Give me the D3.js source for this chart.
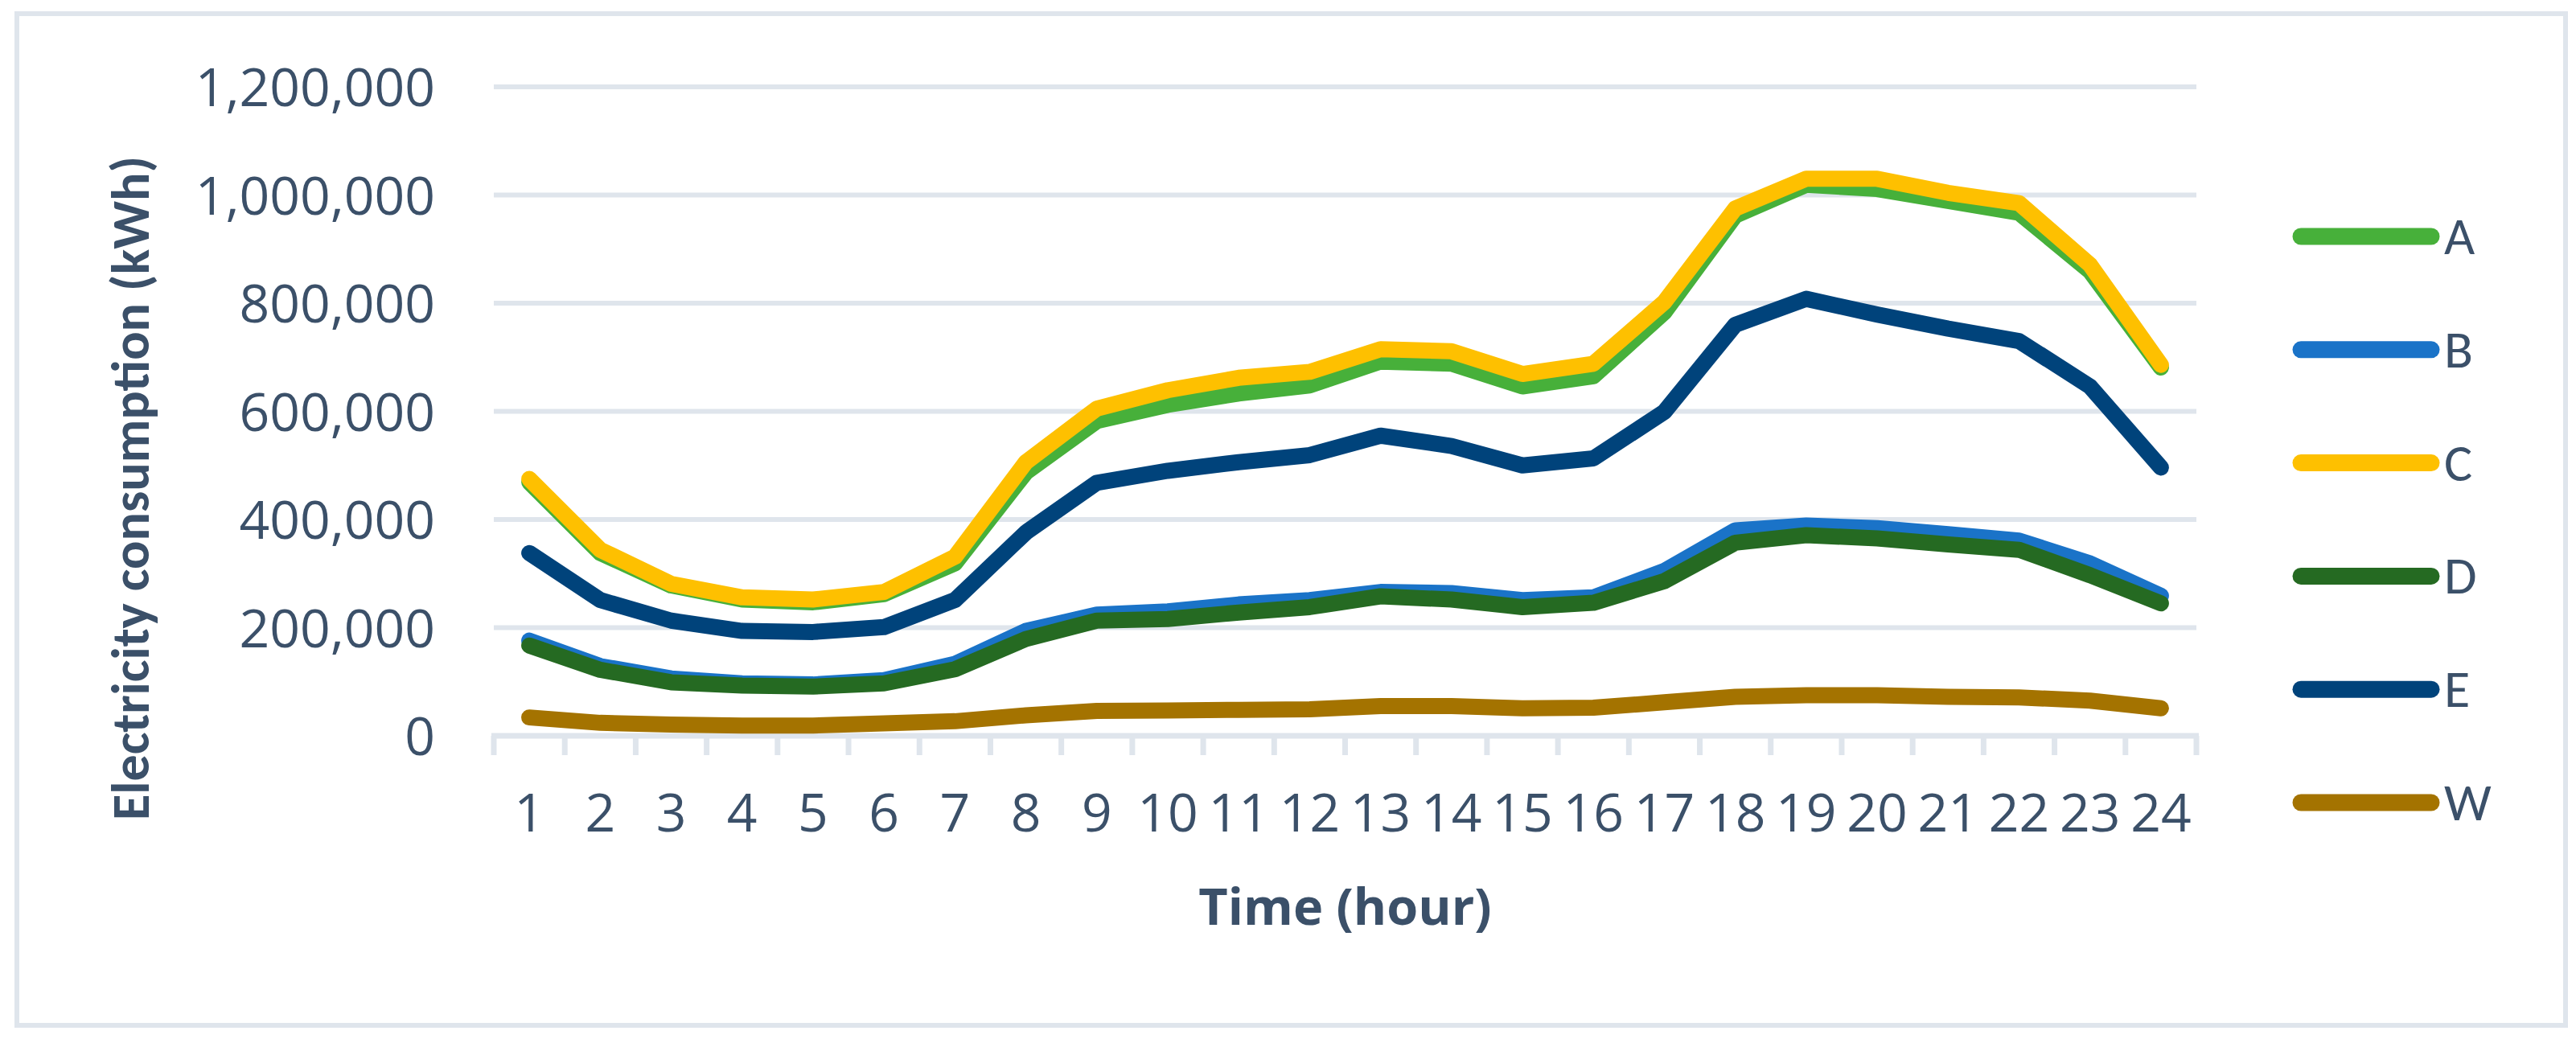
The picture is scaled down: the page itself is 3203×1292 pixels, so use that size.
<!DOCTYPE html>
<html>
<head>
<meta charset="utf-8">
<script src="https://cdn.jsdelivr.net/npm/d3@7"></script>
<style>
  html, body { margin: 0; padding: 0; background: #ffffff; }
  svg { display: block; }
</style>
</head>
<body>
<div id="chart"></div>
<script>
// ---- data ----
const hours = [1,2,3,4,5,6,7,8,9,10,11,12,13,14,15,16,17,18,19,20,21,22,23,24];
const seriesNames = ["A","B","C","D","E","W"];
const seriesColors = ["#47b03a","#1a73c8","#fec000","#256a22","#00437b","#a47300"];
const valuesA = [469000,338000,278000,252000,247000,262000,319000,487000,582000,612000,633000,648000,692000,688000,646000,665000,783000,962000,1019000,1011000,989000,967000,859000,681000];
const valuesB = [176000,129000,106000,97000,95000,103000,133000,194000,224000,230000,243000,251000,266000,264000,251000,256000,305000,380000,389000,384000,373000,361000,319000,259000];
const valuesC = [475000,344000,281000,256000,252000,266000,331000,506000,605000,639000,662000,673000,715000,711000,669000,688000,802000,975000,1030000,1030000,1004000,985000,871000,686000];
const valuesD = [167000,122000,99000,93000,91000,97000,123000,179000,213000,216000,228000,238000,258000,252000,238000,246000,286000,357000,371000,365000,354000,344000,297000,245000];
const valuesE = [338000,251000,213000,194000,192000,201000,251000,376000,468000,490000,506000,519000,555000,536000,500000,513000,599000,760000,808000,779000,753000,730000,646000,496000];
const valuesW = [34000,24000,21000,19000,19000,23000,27000,38000,46000,47000,48000,49000,55000,55000,51000,52000,62000,72000,75000,75000,72000,71000,65000,51000];
const yTicks = [0,200000,400000,600000,800000,1000000,1200000];
const xTitle = "Time (hour)";
const yTitle = "Electricity consumption (kWh)";

const allSeries = [valuesA, valuesB, valuesC, valuesD, valuesE, valuesW];

// ---- layout ----
const W = 3203, H = 1292;
const plot = {left: 614, right: 2731, top: 108, bottom: 915};
const textColor = "#3b5069";
const gridColor = "#dfe5ec";
const font = "Carlito, Lato, 'Open Sans', sans-serif";
const numFont = "'Open Sans', Lato, sans-serif";

const svg = d3.select("#chart").append("svg")
  .attr("width", W).attr("height", H)
  .attr("viewBox", `0 0 ${W} ${H}`);

svg.append("rect").attr("x",0).attr("y",0).attr("width",W).attr("height",H).attr("fill","#fff");
svg.append("rect")
  .attr("x", 21).attr("y", 17).attr("width", 3169).attr("height", 1258)
  .attr("fill", "#fff").attr("stroke", gridColor).attr("stroke-width", 6);

const x = d3.scaleBand().domain(hours).range([plot.left, plot.right]).padding(0);
const y = d3.scaleLinear().domain([0, 1200000]).range([plot.bottom, plot.top]);
const cx = h => x(h) + x.bandwidth() / 2;

// gridlines
svg.append("g").selectAll("line").data(yTicks.filter(d => d > 0)).join("line")
  .attr("x1", plot.left).attr("x2", plot.right)
  .attr("y1", d => y(d)).attr("y2", d => y(d))
  .attr("stroke", gridColor).attr("stroke-width", 6);

// y axis labels
const yAxis = d3.axisLeft(y).tickValues(yTicks).tickSize(0).tickPadding(0)
  .tickFormat(d3.format(","));
const gy = svg.append("g").attr("transform", `translate(541,0)`).call(yAxis);
gy.select(".domain").remove();
gy.selectAll("text")
  .attr("x", 0).attr("dy", "0.36em")
  .attr("fill", textColor).attr("font-family", numFont).attr("font-size", 66);

// x axis
const xAxis = d3.axisBottom(x).tickSize(0).tickPadding(0);
const gx = svg.append("g").attr("transform", `translate(0,${plot.bottom})`).call(xAxis);
gx.select(".domain").remove();
gx.selectAll(".tick line").remove();
gx.selectAll("text")
  .attr("y", 1034 - plot.bottom).attr("dy", 0)
  .attr("fill", textColor).attr("font-family", numFont).attr("font-size", 66);

// axis baseline & band boundary ticks
const boundaries = hours.map(h => x(h)).concat([plot.right]);
svg.append("g").selectAll("line").data(boundaries).join("line")
  .attr("x1", d => d).attr("x2", d => d)
  .attr("y1", plot.bottom).attr("y2", plot.bottom + 24)
  .attr("stroke", gridColor).attr("stroke-width", 7);
svg.append("line")
  .attr("x1", plot.left - 3).attr("x2", plot.right + 3)
  .attr("y1", plot.bottom).attr("y2", plot.bottom)
  .attr("stroke", gridColor).attr("stroke-width", 7);

// lines
const line = d3.line().x((d, i) => cx(hours[i])).y(d => y(d));
svg.append("g").selectAll("path").data(allSeries).join("path")
  .attr("d", d => line(d))
  .attr("fill", "none")
  .attr("stroke", (d, i) => seriesColors[i])
  .attr("stroke-width", 20)
  .attr("stroke-linecap", "round")
  .attr("stroke-linejoin", "round");

// titles
svg.append("text")
  .attr("x", (plot.left + plot.right) / 2).attr("y", 1150)
  .attr("text-anchor", "middle")
  .attr("fill", textColor).attr("font-family", numFont).attr("font-weight", "bold").attr("font-size", 63)
  .text(xTitle);

svg.append("text")
  .attr("transform", "translate(185,607) rotate(-90)")
  .attr("text-anchor", "middle")
  .attr("fill", textColor).attr("font-family", font).attr("font-weight", "bold").attr("font-size", 66)
  .text(yTitle);

// legend
const legendTop = 294, legendStep = 140.8;
const lg = svg.append("g").selectAll("g").data(seriesNames).join("g")
  .attr("transform", (d, i) => `translate(0,${legendTop + i * legendStep})`);
lg.append("line")
  .attr("x1", 2861).attr("x2", 3023).attr("y1", 0).attr("y2", 0)
  .attr("stroke", (d, i) => seriesColors[i]).attr("stroke-width", 21)
  .attr("stroke-linecap", "round");
lg.append("text")
  .attr("x", 3039).attr("y", 22)
  .attr("fill", textColor).attr("font-family", font).attr("font-size", 66)
  .text(d => d);
</script>
</body>
</html>
